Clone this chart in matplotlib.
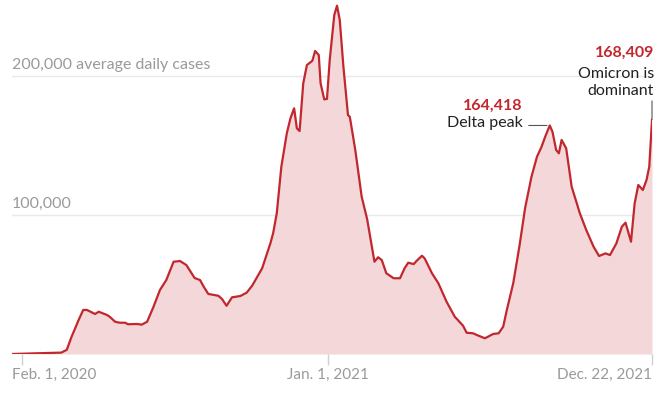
import numpy as np
import matplotlib.pyplot as plt

plt.rcParams['font.family'] = ['Lato', 'DejaVu Sans']

start = np.datetime64('2020-02-01')

# days after Feb. 1, 2020 and 7-day average of new cases (thousands)
days = [-11, 43, 49, 54, 62, 67, 71, 80, 84, 93, 96, 102, 107, 113, 116, 126, 131, 137,
        144, 151, 158, 166, 173, 180, 189, 195, 199, 204, 215, 219, 224, 230, 239, 246,
        252, 263, 272, 275, 279, 284, 290, 294, 298, 301, 304, 308, 312, 318, 321, 325,
        327, 331, 334, 337, 342, 345, 348, 352, 357, 359, 365, 372, 378, 386, 390, 394,
        399, 407, 414, 419, 423, 429, 432, 438, 441, 449, 456, 465, 474, 483, 487, 494,
        498, 507, 516, 522, 527, 531, 538, 545, 551, 558, 564, 569, 573, 578, 581, 585,
        588, 591, 596, 602, 611, 618, 626, 632, 639, 644, 651, 657, 661, 667, 671, 675,
        680, 684, 687, 690]
cases_k = [0, 1, 3, 12, 24.5, 31.7, 31.7, 28.8, 30.4, 28.1, 26.8, 23.2, 22.5, 22.5, 21.4,
           21.6, 21.1, 23.2, 34, 46, 53.2, 66.4, 66.9, 64, 54.7, 53.2, 48.4, 43.2, 41.9,
           39.6, 34.7, 40.8, 41.7, 44.1, 49.1, 61.7, 79.6, 86.8, 101.2, 134.7, 158.8,
           169.6, 176.8, 162.4, 160.4, 194.7, 207.9, 211, 218, 215.1, 194.7, 183.2, 183.5,
           211.5, 243.9, 250.6, 240.3, 206.7, 171.9, 170.7, 146.8, 113.2, 97, 66.4, 69.6,
           67.6, 58.1, 54.5, 54.5, 61.7, 65.7, 64.7, 66.9, 70.7, 68.8, 58.1, 50.9, 37.6,
           26.8, 20.4, 15.3, 14.9, 13.7, 11.3, 14.4, 14.9, 19.6, 31.7, 50.9, 78.4, 105,
           127.6, 141.9, 149.1, 156.3, 164.418, 159.9, 146.8, 144.4, 154, 148, 120.4,
           101.2, 89.2, 77.2, 70.5, 72.4, 71.2, 79.6, 91.6, 94.5, 80.8, 108.4, 121.6, 118,
           125.2, 134.7, 168.409]

tick_days = [0, 335, 690]
tick_labels = ['Feb. 1, 2020', 'Jan. 1, 2021', 'Dec. 22, 2021']
grid_vals = [100000, 200000]
grid_labels = ['100,000', '200,000 average daily cases']

dates = start + np.array(days).astype('timedelta64[D]')
cases = np.array(cases_k) * 1000
tick_dates = start + np.array(tick_days).astype('timedelta64[D]')

red = '#c1272d'
gray = '#9a9a9a'

fig = plt.figure(figsize=(6.6, 3.96), dpi=100)
ax = fig.add_axes([12 / 660, 42 / 396, 640 / 660, 354 / 396])
ax.set_xlim(dates[0], dates[-1])
ax.set_ylim(0, 254700)

for v, lab in zip(grid_vals, grid_labels):
    ax.axhline(v, color='#e9e9e9', lw=1, zorder=0)
    ax.annotate(lab, xy=(dates[0], v), xytext=(0, 4), textcoords='offset pixels',
                ha='left', va='bottom', color=gray, fontsize=11.5)

ax.fill_between(dates, cases, color='#f3d7d9', lw=0, zorder=1)
ax.plot(dates, cases, color=red, lw=1.6, zorder=2, solid_joinstyle='round')
ax.axhline(0, color='#e3e3e3', lw=1, zorder=0)

ax.set_xticks(tick_dates)
ax.set_xticklabels(['', '', ''])
ax.tick_params(axis='x', length=8, color='#d0d0d0', width=1)
ax.set_yticks([])
for s in ax.spines.values():
    s.set_visible(False)

aligns = ['left', 'center', 'right']
xs = [dates[0], tick_dates[1], tick_dates[2]]
for x, lab, ha in zip(xs, tick_labels, aligns):
    ax.annotate(lab, xy=(x, 0), xytext=(0, -21), textcoords='offset pixels',
                ha=ha, va='center', color=gray, fontsize=11)

# Delta peak annotation
i = int(np.argmax(cases[:-5] * (np.array(days[:-5]) > 500)))
px, py = dates[i], cases[i]
ax.annotate('', xy=(px, py), xytext=(-21, 0), textcoords='offset pixels',
            arrowprops=dict(arrowstyle='-', color='#555555', lw=0.8,
                            shrinkA=0, shrinkB=2))
ax.annotate('Delta peak', xy=(px, py), xytext=(-27, 2), textcoords='offset pixels',
            ha='right', va='center', color='#222222', fontsize=11.5)
ax.annotate(f'{py:,.0f}', xy=(px, py), xytext=(-27, 20), textcoords='offset pixels',
            ha='right', va='center', color=red, fontsize=11.5, fontweight='bold')

# Omicron annotation
ex, ey = dates[-1], cases[-1]
ax.annotate('', xy=(ex, ey), xytext=(0, 19), textcoords='offset pixels',
            arrowprops=dict(arrowstyle='-', color='#555555', lw=0.8,
                            shrinkA=0, shrinkB=0), annotation_clip=False)
ax.annotate('Omicron is\ndominant', xy=(ex, ey), xytext=(2, 22), textcoords='offset pixels',
            ha='right', va='bottom', color='#222222', fontsize=11.5, linespacing=1.25,
            annotation_clip=False)
ax.annotate(f'{ey:,.0f}', xy=(ex, ey), xytext=(2, 67), textcoords='offset pixels',
            ha='right', va='center', color=red, fontsize=11.5, fontweight='bold',
            annotation_clip=False)

fig.savefig('out.png', dpi=100)
